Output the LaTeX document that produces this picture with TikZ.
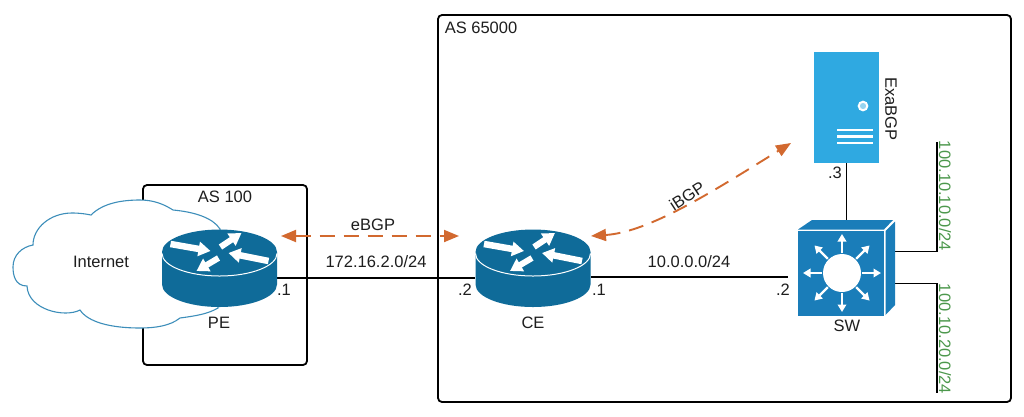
\documentclass[tikz,border=0pt]{standalone}
\usepackage{fontspec}
\setmainfont{Liberation Sans}
\usetikzlibrary{arrows.meta}
\definecolor{routerblue}{HTML}{0F6B99}
\definecolor{switchblue}{HTML}{1A7DB9}
\definecolor{serverblue}{HTML}{2FA9E1}
\definecolor{cloudline}{HTML}{3D8EBA}
\definecolor{bgporange}{HTML}{D2692F}
\definecolor{netgreen}{HTML}{4C984C}
\definecolor{ink}{HTML}{1E1E1E}
\tikzset{
  x=1pt,y=-1pt,
  lbl/.style={font=\fontsize{16.5}{18}\selectfont,text=ink,inner sep=0pt},
  netlbl/.style={font=\fontsize{16.5}{18}\selectfont,text=netgreen,inner sep=0pt,rotate=-90},
  asbox/.style={draw=black,line width=1.8pt,rounded corners=4pt},
  link/.style={draw=black,line width=1.9pt},
  bgp/.style={draw=bgporange,line width=1.9pt,dash pattern=on 15pt off 9pt,
     {Triangle[width=12pt,length=15pt]}-{Triangle[width=12pt,length=15pt]}},
  holder/.style={inner sep=0pt,minimum width=#1},
  whitearrow/.style={draw=white,line width=#1,-{Triangle[width=14pt,length=12pt]}},
  swarrow/.style={draw=white,line width=2.3pt,-{Triangle[width=8.5pt,length=7.5pt]}},
}
\newcommand{\routericon}[2]{%
  \begin{scope}[shift={(#1,#2)}]
    \fill[routerblue] (-57.5,0) -- (-57.5,32.5) arc[start angle=180,end angle=360,x radius=57.5,y radius=-22.5]
       -- (57.5,0) arc[start angle=0,end angle=180,x radius=57.5,y radius=-22.5] -- cycle;
    \draw[white,line width=1pt] (-57.5,1.5) arc[start angle=180,end angle=360,x radius=57.5,y radius=-22.5];
    \draw[whitearrow=6.5pt] (-49,-8) -- (-9,-1);
    \draw[whitearrow=6pt] (1,-5) -- (22,-19);
    \draw[whitearrow=6.5pt] (49,9) -- (9,1);
    \draw[whitearrow=6pt] (-1,6) -- (-23,19);
  \end{scope}}
\begin{document}
\begin{tikzpicture}
\useasboundingbox (0,0) rectangle (1024,416);
\fill[white] (0,0) rectangle (1024,416);

% boxes
\draw[asbox] (143,185) rectangle (307,365);
\draw[asbox] (438,15) rectangle (1011,402);

% cloud
\draw[fill=white,draw=cloudline,line width=1.1pt]
  (91,215) .. controls (103,203) and (122,200) .. (140,200)
  .. controls (155,200) and (165,205) .. (173,210)
  .. controls (195,212) and (213,218) .. (220,229) -- (218,308)
  .. controls (208,314) and (195,316) .. (180,318)
  .. controls (170,326) and (155,328) .. (140,328)
  .. controls (110,328) and (88,322) .. (80,310)
  .. controls (65,318) and (28,310) .. (27,286)
  .. controls (15,286) and (13,275) .. (13,267)
  .. controls (13,255) and (22,247) .. (33,245)
  .. controls (33,228) and (50,213) .. (72,213)
  .. controls (80,213) and (86,214) .. (91,215) -- cycle;

% device placeholders
\node[holder=115pt,minimum height=77pt] (pe) at (219.5,268.5) {};
\node[holder=116pt,minimum height=77pt] (ce) at (533,268.5) {};
\node[holder=97pt,minimum height=96pt] (sw) at (846.5,268) {};
\node[holder=65pt,minimum height=111pt] (srv) at (846.5,107.5) {};
\coordinate (net1) at (937,142);
\coordinate (net2) at (937,393);
\coordinate (swend) at (788,277);
\coordinate (ebgpa) at (281,236);
\coordinate (ebgpb) at (459,236);
\coordinate (ibgpa) at (591,236);
\coordinate (ibgpb) at (791,143);

% links
\draw[link] (pe.east |- 0,278) -- (ce.west |- 0,278);
\draw[link] (ce.east |- swend) -- (swend);
\draw[link] (srv.south) -- (sw.north);
\draw[link] (sw.east |- 0,251.5) -- (937,251.5) -- (net1);
\draw[link] (sw.east |- 0,283.5) -- (937,283.5) -- (net2);

% bgp sessions
\draw[bgp] (ebgpa) -- (ebgpb);
\draw[bgp] (ibgpa) .. controls (650,232) and (715,190) .. (ibgpb);

% routers
\routericon{219.5}{252}
\routericon{533}{252}

% switch
\fill[switchblue] (798,229.5) -- (812,220) -- (893,220) -- (884,229.5) -- cycle;
\fill[switchblue] (885.5,231) -- (895,221.5) -- (895,305) -- (885.5,315) -- cycle;
\fill[switchblue] (798,231) rectangle (884,316);
\fill[white] (842,273) circle[radius=19];
\begin{scope}[shift={(842,273)}]
  \foreach \a in {0,45,...,315}
    \draw[swarrow] (\a:20) -- (\a:39);
\end{scope}

% server
\fill[serverblue] (814,52) rectangle (879,163);
\draw[white,line width=2pt,fill=serverblue!50!white] (863,106) circle[radius=4.3];
\draw[white,line width=2.6pt] (837,130) -- (873,130);
\draw[white,line width=2.6pt] (837,136.5) -- (873,136.5);
\draw[white,line width=2.6pt] (837,143) -- (873,143);

% labels
\node[lbl] (lblas100) at (225,197) {AS 100};
\node[lbl] (lblas65000) at (481,28) {AS 65000};
\node[lbl] (lblinternet) at (101,262) {Internet};
\node[lbl] (lblpe) at (219,323) {PE};
\node[lbl] (lblce) at (533,323) {CE};
\node[lbl] (lblsw) at (847,326) {SW};
\node[lbl,rotate=-90] (lblexa) at (891,109) {ExaBGP};
\node[lbl] (lblebgp) at (373,225) {eBGP};
\node[lbl,rotate=33] (lblibgp) at (687,196) {iBGP};
\node[lbl] (lblnet1) at (376,262) {172.16.2.0/24};
\node[lbl] (lblnet2) at (689,262) {10.0.0.0/24};
\node[lbl] (dot1) at (284,290) {.1};
\node[lbl] (dot2) at (465,290) {.2};
\node[lbl] (dot3) at (599,290) {.1};
\node[lbl] (dot4) at (783,290) {.2};
\node[lbl] (dot5) at (835,173) {.3};
\node[netlbl] (lblv1) at (945,196) {100.10.10.0/24};
\node[netlbl] (lblv2) at (945,339) {100.10.20.0/24};
\end{tikzpicture}
\end{document}
